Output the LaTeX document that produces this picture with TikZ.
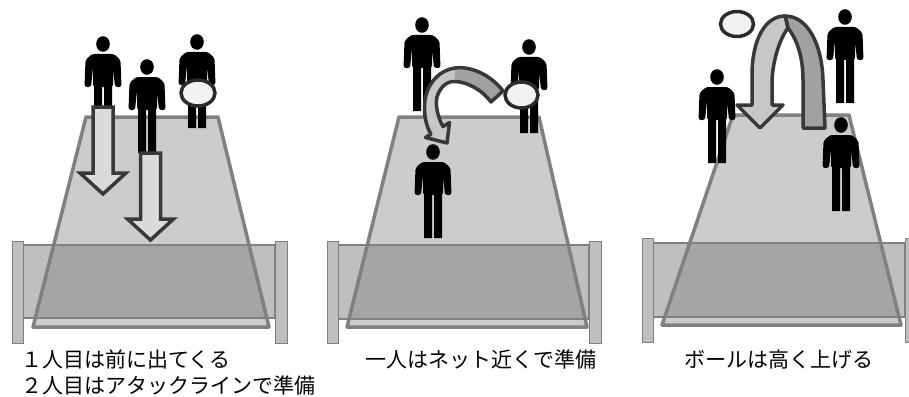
\documentclass[tikz,border=0pt]{standalone}
\usepackage{fontspec}
\newfontfamily\jpfont{Noto Sans CJK JP}
\usetikzlibrary{arrows.meta}
\definecolor{court}{gray}{0.80}
\definecolor{courtline}{gray}{0.50}
\definecolor{netgray}{gray}{0.50}
\definecolor{postfill}{gray}{0.75}
\definecolor{arrowline}{gray}{0.22}
\definecolor{arrowfill}{gray}{0.86}
\definecolor{bandlight}{gray}{0.78}
\definecolor{banddark}{gray}{0.63}
\definecolor{ballfill}{gray}{0.95}
\definecolor{ballline}{gray}{0.17}
\tikzset{
		pics/person/.style={code={
			\fill (0,0) ellipse [x radius=6.8pt, y radius=7.8pt];
			\fill[rounded corners=2.5pt] (-10,43) -- (-10,24) -- (-12,43) -- (-18.5,43) -- (-17.5,16) -- (-11,10)
			  -- (11,10) -- (17.5,16) -- (18.5,43) -- (12,43) -- (10,24) -- (10,43) -- cycle;
			\fill (-9,40) rectangle (-1,86) (1,40) rectangle (9,86);
		}},
		pics/downarrow/.style={code={
			\filldraw[arrowline, fill=arrowfill, line width=3.5pt]
			  (-10,0) -- (10,0) -- (10,66) -- (23,66) -- (0,87) -- (-23,66) -- (-10,66) -- cycle;
		}},
		ball/.style={draw=ballline, fill=ballfill, line width=3.5pt},
		band/.style={draw=arrowline, line width=3.5pt, line join=round},
		caption/.style={font=\jpfont\fontsize{21pt}{25pt}\selectfont, inner sep=0pt}
	}

\begin{document}
\begin{tikzpicture}[x=1pt, y=-1pt] % one unit = one pixel, y runs downwards
		\useasboundingbox (0,0) rectangle (909,396);
		\clip (0,0) rectangle (909,396);
		% courts, nets and posts
		\foreach \tl/\tr/\ty/\bl/\br/\by/\nl/\nr/\nt/\nb/\pt/\pb in {
			86/218/117/33/269/327/23/275/245/318/241/343,
			399/539/117/347/587/327/338/589/245/319/241/343,
			733/849/115/662/901/325/653/905/243/317/238/342}{
		  \filldraw[courtline, fill=court, line width=3.5pt, line join=round]
		    (\tl,\ty) -- (\tr,\ty) -- (\br,\by) -- (\bl,\by) -- cycle;
		  \filldraw[draw=courtline, fill=netgray, fill opacity=0.5, line width=1.5pt] (\nl,\nt) rectangle (\nr,\nb);
		  \filldraw[draw=courtline, fill=postfill, line width=1pt]
		    (\nl-11,\pt) rectangle (\nl,\pb) (\nr,\pt) rectangle (\nr+12,\pb);
		}

		% 1: two players step forward
		\pic at (103,44) {person};
		\pic at (147,67) {person};
		\pic at (197,42) {person};
		\draw[ball] (198,93) ellipse [x radius=17pt, y radius=13pt];
		\pic at (103,107) {downarrow};
		\pic at (150.5,153) {downarrow};

		% 2: pass to the player near the net
		\pic at (422,25) {person};
		\pic at (529,47) {person};
		\pic at (433,152) {person};
		\fill[bandlight] (503,91) .. controls (490,74) and (470,66) .. (455,68) .. controls (440,70) and (428,82) .. (425,100)
		  .. controls (423,115) and (427,128) .. (431,134) -- (425.5,137.5) -- (447,143) -- (449.5,122.5) -- (443,126.5)
		  .. controls (438,118) and (435,105) .. (437,97) .. controls (440,87) and (447,81) .. (455,81.5)
		  .. controls (468,82) and (482,90) .. (491,102) -- cycle;
		\fill[banddark] (503,91) .. controls (490,74) and (470,66) .. (455,68) -- (455,81.5)
		  .. controls (468,82) and (482,90) .. (491,102) -- cycle;
		\draw[band] (503,91) .. controls (490,74) and (470,66) .. (455,68) .. controls (440,70) and (428,82) .. (425,100)
		  .. controls (423,115) and (427,128) .. (431,134) -- (425.5,137.5) -- (447,143) -- (449.5,122.5) -- (443,126.5)
		  .. controls (438,118) and (435,105) .. (437,97) .. controls (440,87) and (447,81) .. (455,81.5)
		  .. controls (468,82) and (482,90) .. (491,102) -- cycle;
		\draw[ball] (521.5,95) ellipse [x radius=16.5pt, y radius=13pt];

		% 3: high ball
		\pic at (717,77) {person};
		\pic at (845,17) {person};
		\pic at (841,125) {person};
		\draw[ball] (737,24) ellipse [x radius=16.5pt, y radius=12.5pt];
		\filldraw[band, fill=banddark] (785,16) .. controls (808,16) and (822,45) .. (823,80) -- (825,128) -- (803,128)
		  -- (803,80) .. controls (803,55) and (796,38) .. (788,28) -- cycle;
		\filldraw[band, fill=bandlight] (752,105) -- (752,75) .. controls (752,40) and (765,16) .. (785,16) -- (788,28)
		  .. controls (780,38) and (773,60) .. (772,80) -- (772,105) -- (783,105) -- (760,128) -- (737,105) -- cycle;

		% captions
		\node[caption, anchor=base west] (cap1a) at (21,367) {１人目は前に出てくる};
		\node[caption, anchor=base west] (cap1b) at (21,393) {２人目はアタックラインで準備};
		\node[caption, anchor=base] (cap2) at (481,367) {一人はネット近くで準備};
		\node[caption, anchor=base] (cap3) at (779,367) {ボールは高く上げる};
	\end{tikzpicture}
\end{document}
